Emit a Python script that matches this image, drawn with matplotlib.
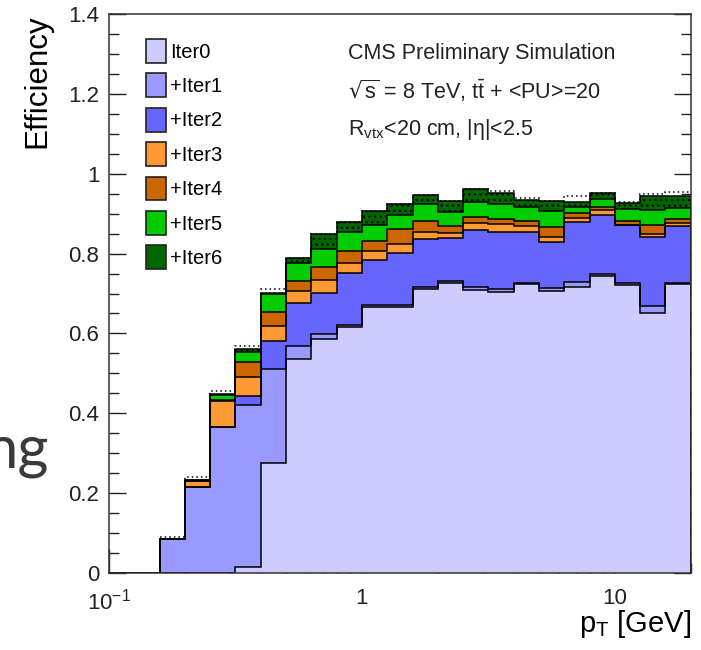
import matplotlib
matplotlib.use("Agg")
import matplotlib.pyplot as plt
import numpy as np
from matplotlib.patches import Patch

plt.rcParams['font.family'] = ['Liberation Sans', 'DejaVu Sans']
plt.rcParams['mathtext.default'] = 'regular'
plt.rcParams['hatch.linewidth'] = 0.9

# bin edges: 0.1 decade wide bins from 0.1 to 20 GeV
edges = 10 ** np.linspace(-1, 1.3, 24)

# cumulative efficiency after each iteration (one value per bin)
iter0 = [0, 0, 0, 0, 0, 0.015, 0.276, 0.536, 0.585, 0.617, 0.667, 0.667,
         0.711, 0.726, 0.709, 0.703, 0.723, 0.706, 0.717, 0.744, 0.721, 0.652, 0.723]
iter1 = [0, 0, 0.084, 0.215, 0.366, 0.420, 0.511, 0.569, 0.598, 0.621, 0.672, 0.672,
         0.717, 0.732, 0.717, 0.711, 0.726, 0.713, 0.729, 0.749, 0.727, 0.669, 0.726]
iter2 = [0, 0, 0.084, 0.215, 0.366, 0.443, 0.580, 0.675, 0.702, 0.751, 0.784, 0.802,
         0.836, 0.838, 0.859, 0.855, 0.855, 0.829, 0.880, 0.897, 0.872, 0.842, 0.869]
iter3 = [0, 0, 0.084, 0.231, 0.432, 0.492, 0.619, 0.707, 0.735, 0.776, 0.806, 0.824,
         0.854, 0.852, 0.876, 0.873, 0.869, 0.842, 0.888, 0.909, 0.872, 0.849, 0.876]
iter4 = [0, 0, 0.084, 0.231, 0.433, 0.529, 0.654, 0.731, 0.767, 0.806, 0.832, 0.861,
         0.882, 0.869, 0.892, 0.886, 0.882, 0.867, 0.901, 0.917, 0.882, 0.872, 0.886]
iter5 = [0, 0, 0.085, 0.232, 0.446, 0.554, 0.699, 0.777, 0.812, 0.855, 0.872, 0.897,
         0.923, 0.905, 0.930, 0.923, 0.917, 0.907, 0.917, 0.936, 0.911, 0.909, 0.913]
iter6 = [0, 0, 0.086, 0.233, 0.449, 0.560, 0.702, 0.789, 0.848, 0.880, 0.907, 0.923,
         0.947, 0.932, 0.961, 0.952, 0.934, 0.932, 0.930, 0.952, 0.927, 0.944, 0.944]
total = [0, 0, 0.090, 0.240, 0.457, 0.568, 0.711, 0.790, 0.848, 0.880, 0.907, 0.923,
         0.947, 0.932, 0.961, 0.956, 0.940, 0.932, 0.943, 0.952, 0.930, 0.949, 0.953]

labels = ['Iter0', '+Iter1', '+Iter2', '+Iter3', '+Iter4', '+Iter5', '+Iter6']
colors = ['#ccccff', '#9999ff', '#6666ff', '#ff9933', '#cc6600', '#00cc00', '#006600']
layers = [iter0, iter1, iter2, iter3, iter4, iter5, iter6]

fig = plt.figure(figsize=(7.01, 6.50), dpi=100)
ax = fig.add_axes([109 / 701, 77 / 650, 582 / 701, 559 / 650])

# draw from the top of the stack down so lower layers cover upper ones
for i in range(len(layers) - 1, -1, -1):
    hatch = '...' if i == 6 else None
    ax.stairs(layers[i], edges, baseline=0, fill=True, facecolor=colors[i],
              edgecolor='black', hatch=hatch, linewidth=0, zorder=2)
    ax.stairs(layers[i], edges, baseline=0, color='black', linewidth=1.1, zorder=3)

ax.stairs(total, edges, baseline=None, color='black', linestyle=(0, (1, 2)),
          linewidth=1.1, zorder=4)

ax.set_xscale('log')
ax.set_xlim(0.1, 20)
ax.set_ylim(0, 1.4)

ax.set_xticks([0.1, 1, 10])
ax.set_xticklabels(['10$^{-1}$', '1', '10'])
ax.xaxis.set_minor_locator(matplotlib.ticker.LogLocator(base=10, subs=np.arange(2, 10)))
ax.xaxis.set_minor_formatter(matplotlib.ticker.NullFormatter())
ax.set_yticks(np.arange(0, 1.41, 0.2))
ax.set_yticklabels(['0', '0.2', '0.4', '0.6', '0.8', '1', '1.2', '1.4'])
ax.yaxis.set_minor_locator(matplotlib.ticker.MultipleLocator(0.05))

ax.tick_params(which='both', direction='in', right=True, top=False, labelsize=16, colors='#222222')
ax.tick_params(which='major', length=12, width=1)
ax.tick_params(which='minor', length=7, width=1)
ax.tick_params(axis='x', which='major', length=17, pad=11)
ax.tick_params(axis='y', which='major', pad=7)
for s in ax.spines.values():
    s.set_color('#333333')
    s.set_linewidth(1.1)
    s.set_zorder(5)

ax.set_ylabel('Efficiency', fontsize=22.5, loc='top')
ax.yaxis.set_label_coords(-0.097, 1.0)
ax.set_xlabel('p$_{T}$ [GeV]', fontsize=21, loc='right')
ax.xaxis.set_label_coords(1.0, -0.062)

handles = [Patch(facecolor=c, edgecolor='#222222', linewidth=1.2) for c in colors]
ax.legend(handles, labels, loc='upper left', bbox_to_anchor=(146 / 701, 1 - 39 / 650),
          bbox_transform=fig.transFigure, frameon=False, fontsize=14.5,
          handlelength=1.0, handleheight=1.45, labelspacing=0.52,
          handletextpad=0.2, borderpad=0, borderaxespad=0)

ax.text(0.41, 0.93, 'CMS Preliminary Simulation', transform=ax.transAxes,
        fontsize=15.5, va='center', color='#222222')
ax.text(0.41, 0.862, r'$\sqrt{s}$ = 8 TeV, t$\bar{t}$ + <PU>=20', transform=ax.transAxes,
        fontsize=15.5, va='center', color='#222222')
ax.text(0.41, 0.794, r'R$_{vtx}$<20 cm, |$\eta$|<2.5', transform=ax.transAxes,
        fontsize=15.5, va='center', color='#222222')

# leftover text from the slide behind the plot
fig.text(49 / 701, 1 - 467 / 650, 'ng', fontsize=43, family='Lato', color='#3a3a3a',
         ha='right', va='baseline')

fig.savefig('out.png', dpi=100)
